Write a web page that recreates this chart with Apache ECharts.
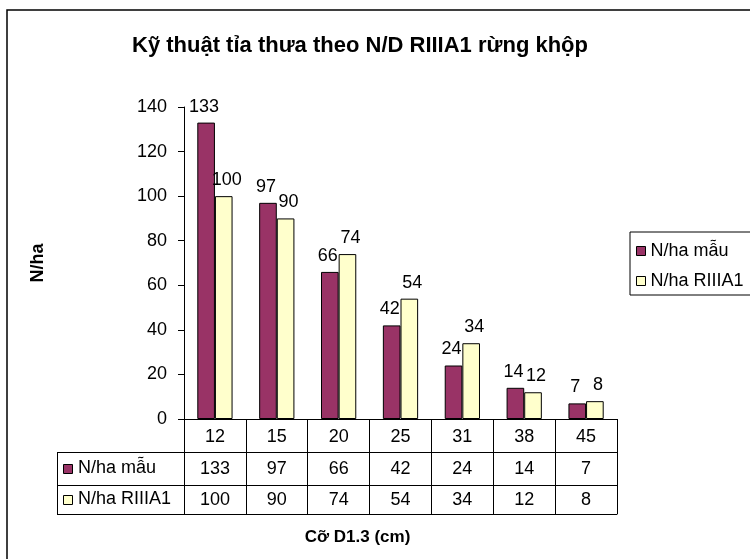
<!DOCTYPE html>
<html>
<head>
<meta charset="utf-8">
<script src="https://cdn.jsdelivr.net/npm/echarts@6/dist/echarts.min.js"></script>
<style>
html,body{margin:0;padding:0;background:#fff;}
#chart{width:750px;height:559px;}
</style>
</head>
<body>
<div id="chart"></div>
<script>
// ---- data ----
const titleText = 'Kỹ thuật tỉa thưa theo N/D RIIIA1 rừng khộp';
const yAxisTitle = 'N/ha';
const xAxisTitle = 'Cỡ D1.3 (cm)';
const categories = ['12', '15', '20', '25', '31', '38', '45'];
const seriesNames = ['N/ha mẫu', 'N/ha RIIIA1'];
const nhaMau = [133, 97, 66, 42, 24, 14, 7];
const nhaRIIIA1 = [100, 90, 74, 54, 34, 12, 8];
const yMin = 0, yMax = 140, yInterval = 20;

// ---- layout / style ----
const FONT = '"Liberation Sans", Arial, sans-serif';
const colors = ['#993366', '#FFFFCC'];
const gridLeft = 184, gridRight = 617, gridTop = 107, gridBottomY = 419;
const rowH = [33, 33, 29];
const tableLeft = 57;

const chart = echarts.init(document.getElementById('chart'), null, {renderer: 'canvas'});

const rowTops = [gridBottomY];
rowH.forEach((h, i) => rowTops.push(rowTops[i] + h));

const lineStyle = {color: '#000', width: 1};

function tableAxis(data, offset, tickLen, margin, showLabel) {
  return {
    type: 'category',
    data: data,
    position: 'bottom',
    offset: offset,
    axisLine: {show: true, lineStyle: lineStyle},
    axisTick: {show: tickLen > 0, interval: 0, length: tickLen, lineStyle: lineStyle},
    axisLabel: {show: showLabel, interval: 0, margin: margin, fontSize: 18, color: '#000', fontFamily: FONT},
    splitLine: {show: false}
  };
}

const xAxes = [
  tableAxis(categories, 0, rowH[0], 9, true),
  tableAxis(nhaMau.map(String), rowH[0], rowH[1], 8, true),
  tableAxis(nhaRIIIA1.map(String), rowH[0] + rowH[1], rowH[2], 6, true),
  tableAxis(categories, rowH[0] + rowH[1] + rowH[2], 0, 0, false)
];
xAxes[3].name = xAxisTitle;
xAxes[3].nameLocation = 'middle';
xAxes[3].nameGap = 15;
xAxes[3].nameTextStyle = {fontSize: 17, fontWeight: 'bold', color: '#000', fontFamily: FONT, padding: [0, 86, 0, 0]};

// left part of the data table (legend keys + row names)
const graphics = [];
graphics.push({
  type: 'rect', z: -10, silent: true,
  shape: {x: 7, y: 10, width: 900, height: 800},
  style: {fill: '#fff', stroke: '#000', lineWidth: 1.5}
});
for (let r = 1; r < rowTops.length; r++) {
  graphics.push({
    type: 'line', silent: true,
    shape: {x1: tableLeft, y1: rowTops[r] + 0.5, x2: gridLeft, y2: rowTops[r] + 0.5},
    style: {stroke: '#000', lineWidth: 1}
  });
}
graphics.push({
  type: 'line', silent: true,
  shape: {x1: tableLeft + 0.5, y1: rowTops[1], x2: tableLeft + 0.5, y2: rowTops[3]},
  style: {stroke: '#000', lineWidth: 1}
});
seriesNames.forEach((name, i) => {
  const cy = (rowTops[i + 1] + rowTops[i + 2]) / 2;
  graphics.push({
    type: 'rect', silent: true,
    shape: {x: tableLeft + 6.5, y: Math.round(cy - 5) + 0.5, width: 9, height: 9},
    style: {fill: colors[i], stroke: '#000', lineWidth: 1}
  });
  graphics.push({
    type: 'text', silent: true,
    x: tableLeft + 21, y: cy,
    style: {text: name, fontSize: 18, fontFamily: FONT, fill: '#000', verticalAlign: 'middle', align: 'left'}
  });
});

const option = {
  animation: false,
  backgroundColor: '#fff',
  title: {
    text: titleText,
    left: 132, top: 35, padding: 0,
    textStyle: {fontSize: 22, fontWeight: 'bold', color: '#000', fontFamily: FONT}
  },
  legend: {
    orient: 'vertical',
    left: 630, top: 232,
    padding: [10, 40, 5, 6],
    itemGap: 12,
    itemWidth: 9, itemHeight: 9,
    icon: 'rect',
    borderColor: '#000', borderWidth: 1,
    backgroundColor: '#fff',
    itemStyle: {borderColor: '#000', borderWidth: 1},
    textStyle: {fontSize: 18, color: '#000', fontFamily: FONT},
    data: seriesNames
  },
  grid: {
    left: gridLeft, top: gridTop,
    width: gridRight - gridLeft, height: gridBottomY - gridTop,
    containLabel: false
  },
  xAxis: xAxes,
  yAxis: {
    type: 'value',
    min: yMin, max: yMax, interval: yInterval,
    name: yAxisTitle,
    nameLocation: 'middle',
    nameGap: 137,
    nameTextStyle: {fontSize: 18, fontWeight: 'bold', color: '#000', fontFamily: FONT},
    axisLine: {show: true, lineStyle: lineStyle},
    axisTick: {show: true, length: 6, lineStyle: lineStyle},
    axisLabel: {fontSize: 18, color: '#000', margin: 17, fontFamily: FONT},
    splitLine: {show: false}
  },
  series: [
    {
      name: seriesNames[0], type: 'bar', xAxisIndex: 0,
      data: nhaMau,
      barGap: '0%', barCategoryGap: '43%',
      itemStyle: {color: colors[0], borderColor: '#000', borderWidth: 1},
      label: {show: true, position: 'top', distance: 7, offset: [-2, 0], fontSize: 18, color: '#000', fontFamily: FONT}
    },
    {
      name: seriesNames[1], type: 'bar', xAxisIndex: 0,
      data: nhaRIIIA1,
      barGap: '0%', barCategoryGap: '43%',
      itemStyle: {color: colors[1], borderColor: '#000', borderWidth: 1},
      label: {show: true, position: 'top', distance: 7, offset: [3, 0], fontSize: 18, color: '#000', fontFamily: FONT}
    }
  ],
  graphic: graphics
};
chart.setOption(option);
</script>
</body>
</html>
